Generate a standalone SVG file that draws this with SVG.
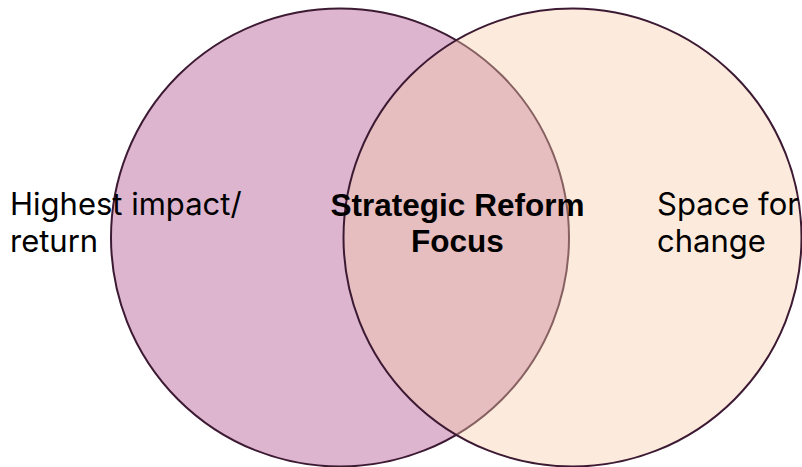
<svg xmlns="http://www.w3.org/2000/svg" width="802" height="467" viewBox="0 0 802 467">
<style>
.c{stroke:#3D1A33;stroke-width:2}
.lbl{font-family:Inter,"Liberation Sans",sans-serif;font-size:31px;fill:#000}
.ctr{font-family:"Liberation Sans",Arial,sans-serif;font-weight:bold;font-size:31.5px;fill:#000;text-anchor:middle}
</style>
<rect width="802" height="467" fill="#fff"/>
<g id="left-circle">
<circle class="c" cx="340" cy="237.5" r="229" fill="#DDB5CF"/>
</g>
<g id="right-circle">
<circle cx="572.5" cy="237.5" r="229" fill="#F7CDA7" fill-opacity="0.4" stroke="#3D1A33" stroke-width="2"/>
</g>
<g id="labels">
<text class="lbl" x="10" y="215">Highest impact/</text>
<text class="lbl" x="10" y="252">return</text>
<text class="lbl" x="657" y="215">Space for</text>
<text class="lbl" x="657" y="252">change</text>
<text class="ctr" x="457.5" y="216">Strategic Reform</text>
<text class="ctr" x="457.5" y="252">Focus</text>
</g>
</svg>
